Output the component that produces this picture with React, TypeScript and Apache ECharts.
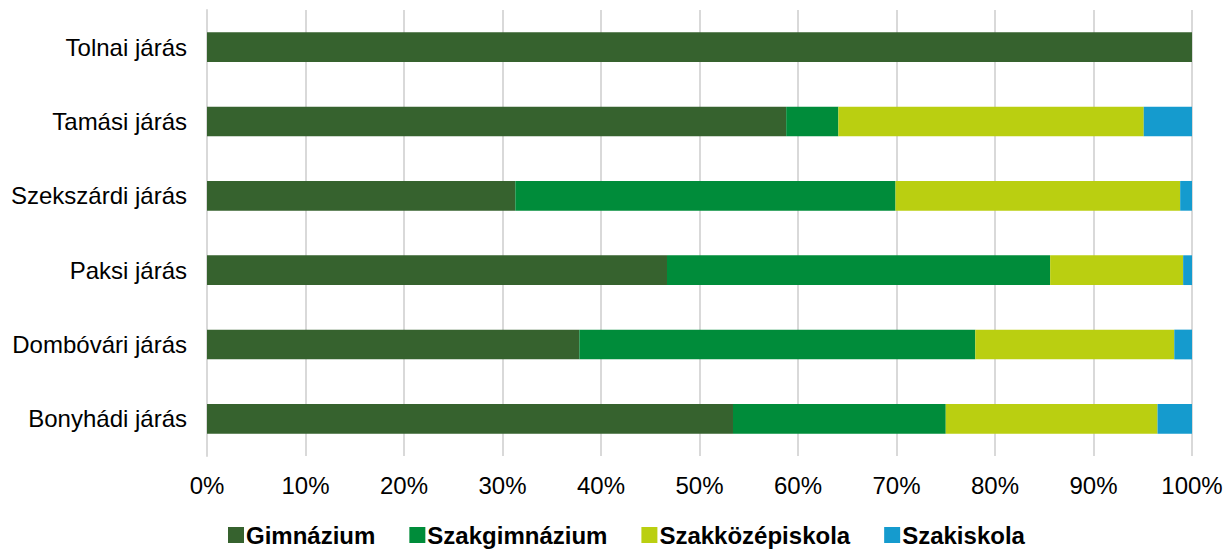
import React, { useEffect, useRef } from "react";
import * as echarts from "echarts";

const categories = ["Bonyhádi járás", "Dombóvári járás", "Paksi járás", "Szekszárdi járás", "Tamási járás", "Tolnai járás"];
const gimnazium = [53.4, 37.8, 46.7, 31.3, 58.8, 100];
const szakgimnazium = [21.6, 40.2, 38.9, 38.6, 5.3, 0];
const szakkozep = [21.5, 20.2, 13.5, 28.9, 31.0, 0];
const szakiskola = [3.5, 1.8, 0.9, 1.2, 4.9, 0];
const seriesNames = ["Gimnázium", "Szakgimnázium", "Szakközépiskola", "Szakiskola"];
const colors = ["#36622e", "#008c3a", "#bacf11", "#159bce"];

export default function App() {
  const ref = useRef<HTMLDivElement>(null);
  useEffect(() => {
    if (!ref.current) return;
    const chart = echarts.init(ref.current, undefined, { renderer: "svg" });
    const data = [gimnazium, szakgimnazium, szakkozep, szakiskola];
    chart.setOption({
      animation: false,
      textStyle: { fontFamily: "Liberation Sans, Arial, sans-serif" },
      grid: { left: 199, right: 31, top: 2, bottom: 93, outerBoundsMode: "none", containLabel: false },
      legend: {
        top: 510,
        left: 215,
        itemWidth: 16,
        itemHeight: 16,
        itemGap: 34,
        icon: "rect",
        textStyle: { fontSize: 24, fontWeight: "bold", color: "#000", padding: [0, 0, 0, -3] },
        data: seriesNames,
      },
      xAxis: {
        type: "value",
        min: 0,
        max: 100,
        interval: 10,
        axisLabel: { formatter: "{value}%", fontSize: 24, color: "#000", margin: 17 },
        splitLine: { lineStyle: { color: "#d9d9d9", width: 2 } },
        axisLine: { show: false },
        axisTick: { show: false },
      },
      yAxis: {
        type: "category",
        data: categories,
        axisLabel: { fontSize: 24, color: "#000", margin: 20 },
        axisLine: { show: true, lineStyle: { color: "#d9d9d9", width: 2 } },
        axisTick: { show: false },
      },
      series: seriesNames.map((name, i) => ({
        name,
        type: "bar",
        stack: "total",
        barWidth: "40%",
        data: data[i],
        itemStyle: { color: colors[i] },
      })),
    });
    return () => chart.dispose();
  }, []);
  return <div ref={ref} style={{ width: 1215, height: 541 }} />;
}
